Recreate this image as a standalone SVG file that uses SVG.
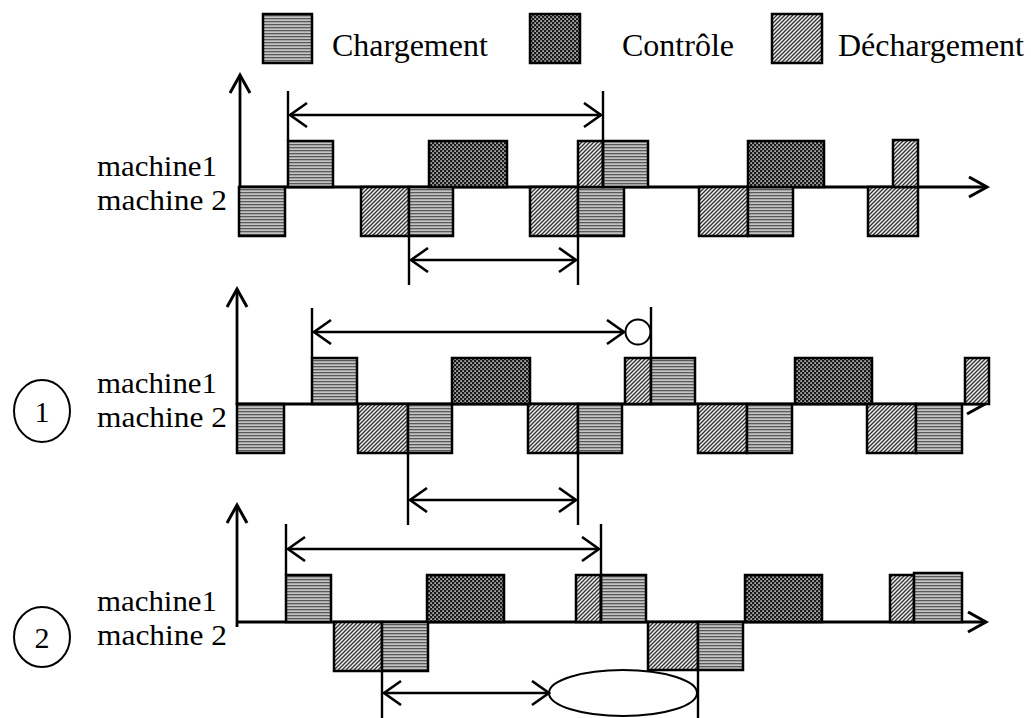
<svg xmlns="http://www.w3.org/2000/svg" width="1031" height="718" viewBox="0 0 1031 718">
<defs>
<pattern id="pc" width="3" height="3" patternUnits="userSpaceOnUse"><rect width="3" height="3" fill="#c4c4c4"/><rect width="3" height="1.3" fill="#5a5a5a"/></pattern>
<pattern id="pk" width="4" height="4" patternUnits="userSpaceOnUse"><rect width="4" height="4" fill="#1a1a1a"/><rect x="0.4" y="0.4" width="1.4" height="1.4" fill="#fff"/><rect x="2.4" y="2.4" width="1.4" height="1.4" fill="#fff"/></pattern>
<pattern id="pd" width="4" height="4" patternUnits="userSpaceOnUse"><rect width="4" height="4" fill="#ececec"/><path d="M0,4 L4,0 M-1,1 L1,-1 M3,5 L5,3" stroke="#333" stroke-width="1.3"/></pattern>
<marker id="ah" markerUnits="userSpaceOnUse" markerWidth="24" markerHeight="28" refX="19" refY="13" orient="auto-start-reverse"><path d="M2,1 L19,13 L2,25" fill="none" stroke="#000" stroke-width="2.6"/></marker>
<marker id="ax" markerUnits="userSpaceOnUse" markerWidth="24" markerHeight="26" refX="20" refY="11" orient="auto"><path d="M2,1 L20,11 L2,21" fill="none" stroke="#000" stroke-width="3"/></marker>
<style>
.c{fill:url(#pc);stroke:#000;stroke-width:2.5}
.k{fill:url(#pk);stroke:#000;stroke-width:2.5}
.d{fill:url(#pd);stroke:#000;stroke-width:2.5}
.t{font-family:"Liberation Serif","Times New Roman",serif;font-size:30px;fill:#000}
.lg{font-family:"Liberation Serif","Times New Roman",serif;font-size:32px;fill:#000}
.axis{stroke:#000;stroke-width:2.8;fill:none}
.dim{stroke:#000;stroke-width:2.4;fill:none}
.dar{stroke:#000;stroke-width:2.6;fill:none;marker-start:url(#ah);marker-end:url(#ah)}
.ring{fill:none;stroke:#000;stroke-width:2}
</style>
</defs>
<rect width="1031" height="718" fill="#fff"/>

<g id="legend">
<rect class="c" x="263" y="14" width="49" height="49"/>
<text class="lg" x="332" y="56">Chargement</text>
<rect class="k" x="530" y="14" width="50" height="49"/>
<text class="lg" x="622" y="56">Contrôle</text>
<rect class="d" x="772" y="14" width="50" height="49"/>
<text class="lg" x="838" y="56">Déchargement</text>
</g>

<g id="axes">
<path class="axis" d="M240,188 V75" marker-end="url(#ax)"/>
<path class="axis" d="M240,187 H987" marker-end="url(#ax)"/>
<path class="axis" d="M237,405 V289" marker-end="url(#ax)"/>
<path class="axis" d="M237,404 H985" marker-end="url(#ax)"/>
<path class="axis" d="M237,627 V505" marker-end="url(#ax)"/>
<path class="axis" d="M237,622 H986" marker-end="url(#ax)"/>
</g>

<g id="labels">
<text class="t" x="97" y="176" textLength="120" lengthAdjust="spacingAndGlyphs">machine1</text>
<text class="t" x="97" y="210" textLength="130" lengthAdjust="spacingAndGlyphs">machine 2</text>
<text class="t" x="97" y="393" textLength="120" lengthAdjust="spacingAndGlyphs">machine1</text>
<text class="t" x="97" y="427" textLength="130" lengthAdjust="spacingAndGlyphs">machine 2</text>
<text class="t" x="97" y="611" textLength="120" lengthAdjust="spacingAndGlyphs">machine1</text>
<text class="t" x="97" y="645" textLength="130" lengthAdjust="spacingAndGlyphs">machine 2</text>
<g id="case1"><ellipse class="ring" cx="42" cy="411" rx="28" ry="31"/><text class="t" x="42" y="422" text-anchor="middle">1</text></g>
<g id="case2"><ellipse class="ring" cx="42" cy="637" rx="28" ry="30"/><text class="t" x="42" y="648" text-anchor="middle">2</text></g>
</g>

<g id="schedule-ref">
<g id="ref-m2">
<rect class="c" x="239" y="187" width="46" height="49"/>
<rect class="d" x="361" y="187" width="48" height="49"/>
<rect class="c" x="409" y="187" width="44" height="49"/>
<rect class="d" x="530" y="187" width="48" height="49"/>
<rect class="c" x="578" y="187" width="46" height="49"/>
<rect class="d" x="699" y="187" width="49" height="49"/>
<rect class="c" x="748" y="187" width="45" height="49"/>
<rect class="d" x="868" y="187" width="50" height="49"/>
</g>
<g id="ref-m1">
<rect class="c" x="288" y="141" width="45" height="46"/>
<rect class="k" x="429" y="141" width="78" height="46"/>
<rect class="d" x="578" y="141" width="25" height="46"/>
<rect class="c" x="603" y="141" width="45" height="46"/>
<rect class="k" x="748" y="141" width="76" height="46"/>
<rect class="d" x="893" y="140" width="25" height="47"/>
</g>
</g>

<g id="schedule-1">
<g id="s1-m2">
<rect class="c" x="237" y="404" width="47" height="49"/>
<rect class="d" x="358" y="404" width="50" height="49"/>
<rect class="c" x="408" y="404" width="44" height="49"/>
<rect class="d" x="528" y="404" width="50" height="49"/>
<rect class="c" x="578" y="404" width="44" height="49"/>
<rect class="d" x="698" y="404" width="49" height="49"/>
<rect class="c" x="747" y="404" width="45" height="49"/>
<rect class="d" x="867" y="404" width="49" height="49"/>
<rect class="c" x="916" y="404" width="46" height="49"/>
</g>
<g id="s1-m1">
<rect class="c" x="312" y="358" width="45" height="46"/>
<rect class="k" x="452" y="358" width="78" height="46"/>
<rect class="d" x="625" y="358" width="26" height="46"/>
<rect class="c" x="651" y="358" width="44" height="46"/>
<rect class="k" x="795" y="358" width="77" height="46"/>
<rect class="d" x="965" y="358" width="24" height="46"/>
</g>
</g>

<g id="schedule-2">
<g id="s2-m1">
<rect class="c" x="286" y="575" width="45" height="47"/>
<rect class="k" x="427" y="575" width="77" height="47"/>
<rect class="d" x="576" y="575" width="25" height="47"/>
<rect class="c" x="601" y="575" width="45" height="47"/>
<rect class="k" x="745" y="575" width="77" height="47"/>
<rect class="d" x="890" y="575" width="24" height="47"/>
<rect class="c" x="914" y="573" width="48" height="49"/>
</g>
<g id="s2-m2">
<rect class="d" x="334" y="622" width="48" height="49"/>
<rect class="c" x="382" y="622" width="46" height="49"/>
<rect class="d" x="648" y="622" width="50" height="48"/>
<rect class="c" x="698" y="622" width="45" height="48"/>
</g>
</g>

<g id="connectors">
<path class="dim" d="M288,91 V141 M603,91 V187"/>
<path class="dar" d="M290,115 H601"/>
<path class="dim" d="M409,236 V285 M578,236 V285"/>
<path class="dar" d="M411,260 H576"/>

<path class="dim" d="M312,308 V358 M651,307 V358"/>
<path class="dar" d="M314,332 H624"/>
<circle class="ring" cx="638" cy="332" r="12.5"/>
<path class="dim" d="M408,453 V525 M578,453 V525"/>
<path class="dar" d="M410,500 H576"/>

<path class="dim" d="M286,524 V575 M601,524 V622"/>
<path class="dar" d="M288,549 H599"/>
<path class="dim" d="M382,671 V718 M698,670 V718"/>
<path class="dar" d="M384,693 H549"/>
<ellipse class="ring" cx="623" cy="693" rx="74" ry="23"/>
</g>
</svg>
